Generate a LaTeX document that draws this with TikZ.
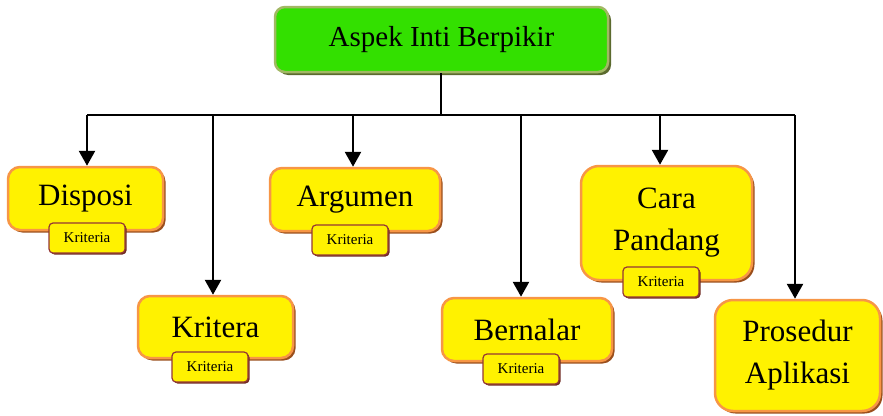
\documentclass[tikz,border=0pt]{standalone}
\usepackage{fontspec}
\setmainfont{Liberation Serif}
\usetikzlibrary{shadows,arrows.meta}
\definecolor{ybord}{HTML}{F79646}
\definecolor{yshad}{HTML}{9A4E1C}
\definecolor{gfill}{HTML}{33E000}
\definecolor{gbord}{HTML}{A2B864}
\definecolor{gshad}{HTML}{5B6A2E}
\definecolor{kbord}{HTML}{953735}
\definecolor{kshad}{HTML}{6E2A22}
\tikzset{
  bigbox/.style={draw=ybord, line width=2.5pt, fill=yellow, rounded corners=12pt,
    align=center, inner sep=0pt, font=\fontsize{31}{42}\selectfont,
    drop shadow={shadow xshift=2.5pt, shadow yshift=-2.5pt, fill=yshad, opacity=1}},
  topbox/.style={draw=gbord, line width=2.5pt, fill=gfill, rounded corners=10pt,
    inner sep=0pt, font=\fontsize{29}{36}\selectfont,
    drop shadow={shadow xshift=3pt, shadow yshift=-3pt, fill=gshad, opacity=1}},
  kbox/.style={draw=kbord, line width=1.2pt, fill=yellow, rounded corners=4pt,
    inner sep=0pt, minimum width=76pt, minimum height=30pt, font=\fontsize{15}{18}\selectfont,
    drop shadow={shadow xshift=1.5pt, shadow yshift=-1.5pt, fill=kshad, opacity=1}},
  trunk/.style={line width=1.5pt},
  drop/.style={line width=2.6pt, -{Triangle[length=15pt,width=16pt]}}
}
\begin{document}
\begin{tikzpicture}[x=1pt,y=-1pt]
\useasboundingbox (0,0) rectangle (883,415);
% top
\node[topbox, minimum width=333pt, minimum height=65pt] (top) at (441.5,39.5) {Aspek Inti Berpikir};
% big boxes
\node[bigbox, minimum width=155pt, minimum height=63pt] (disposi) at (85.5,198.5) {\raisebox{-2pt}{Disposi}};
\node[bigbox, minimum width=170pt, minimum height=63pt] (argumen) at (355,199.5) {\raisebox{-2pt}{Argumen}};
\node[bigbox, minimum width=155pt, minimum height=62pt] (kritera) at (215.5,327) {\raisebox{-2pt}{Kritera}};
\node[bigbox, minimum width=170pt, minimum height=63pt] (bernalar) at (527,329.5) {\raisebox{-2pt}{Bernalar}};
\node[bigbox, minimum width=171pt, minimum height=114pt, rounded corners=18pt] (cara) at (666.5,223) {Cara\\Pandang};
\node[bigbox, minimum width=165pt, minimum height=111pt, rounded corners=18pt] (prosedur) at (797.5,355.5) {Prosedur\\Aplikasi};
% kriteria tags
\node[kbox] (k1) at (87,238) {Kriteria};
\node[kbox] (k2) at (350,240) {Kriteria};
\node[kbox] (k3) at (210,367) {Kriteria};
\node[kbox] (k4) at (521,369) {Kriteria};
\node[kbox] (k5) at (661,282) {Kriteria};
% connectors
\coordinate (hub) at (441,115);
\coordinate (j1) at (87,115);
\coordinate (j2) at (213,115);
\coordinate (j3) at (353,115);
\coordinate (j4) at (521,115);
\coordinate (j5) at (660,115);
\coordinate (j6) at (795,115);
\draw[trunk] (top.south -| hub) -- (hub);
\draw[trunk] (j1) -- (j6);
\draw[drop] (j1) -- (j1 |- disposi.north);
\draw[drop] (j2) -- (j2 |- kritera.north);
\draw[drop] (j3) -- (j3 |- argumen.north);
\draw[drop] (j4) -- (j4 |- bernalar.north);
\draw[drop] (j5) -- (j5 |- cara.north);
\draw[drop] (j6) -- (j6 |- prosedur.north);
\end{tikzpicture}
\end{document}
